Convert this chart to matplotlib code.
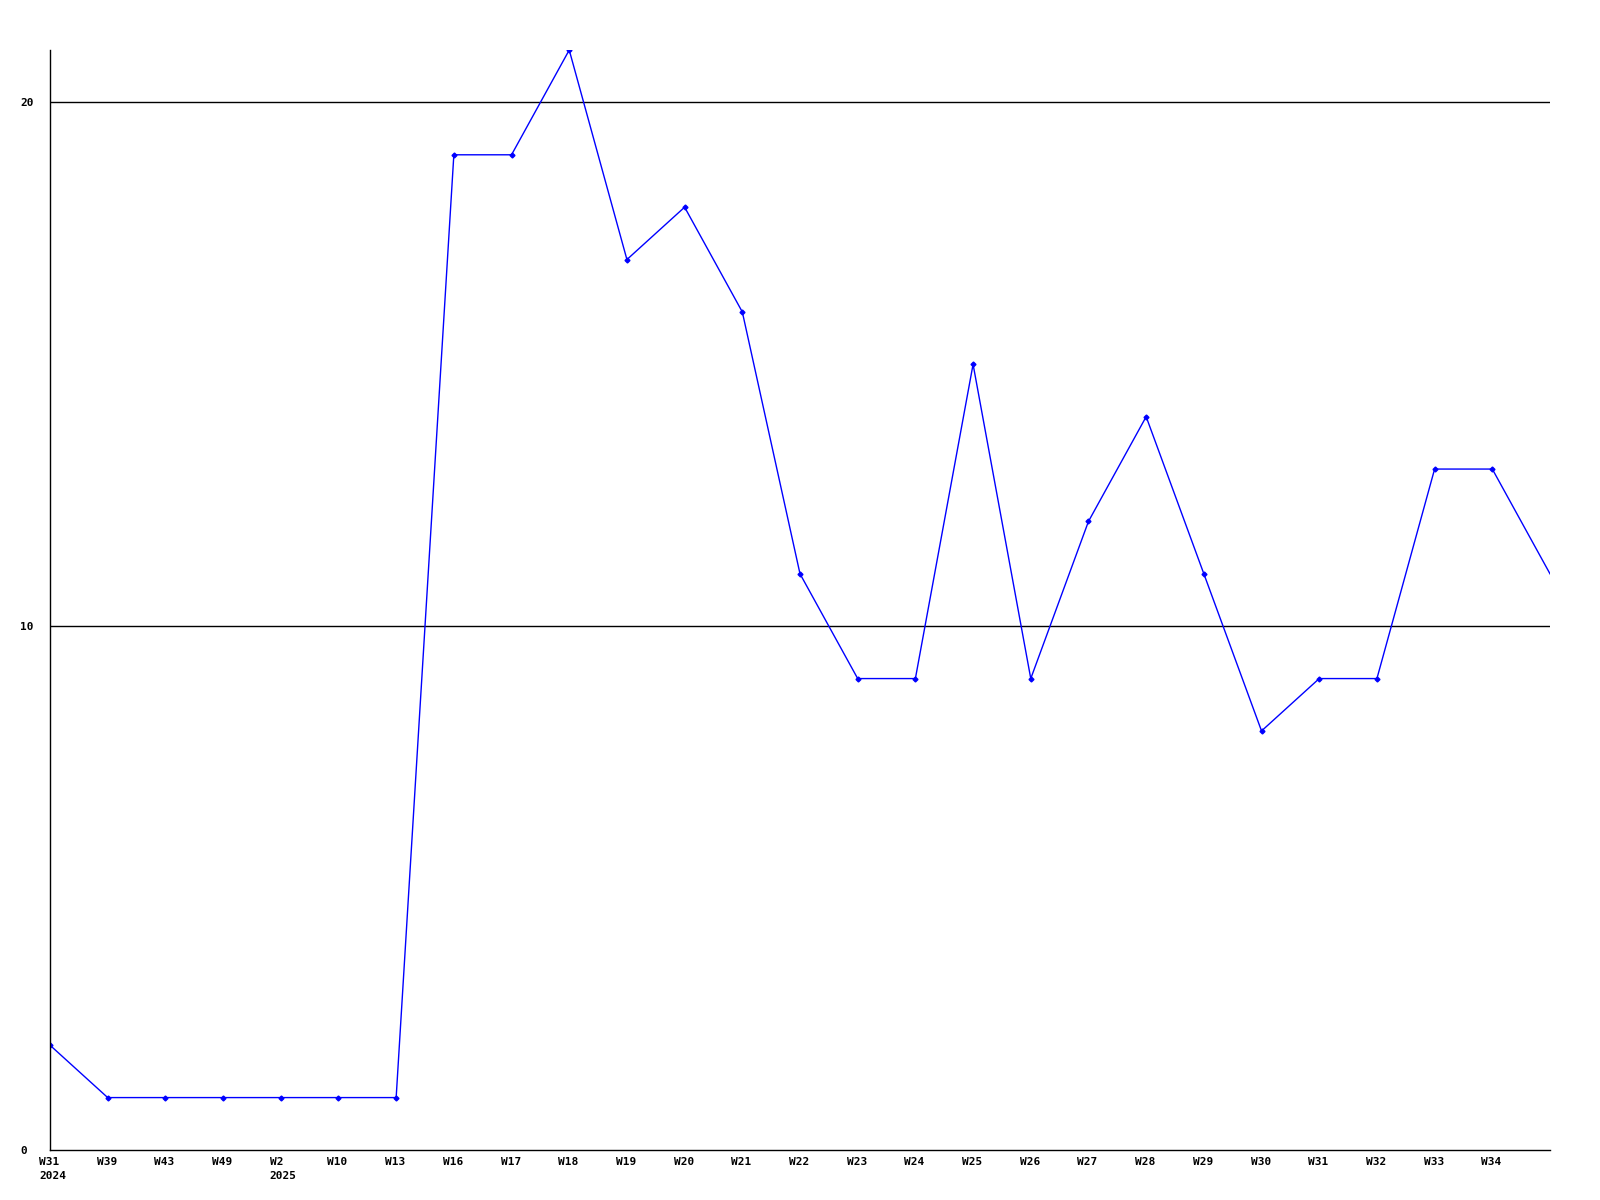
import matplotlib
matplotlib.use('Agg')
import matplotlib.pyplot as plt
import matplotlib.transforms as mtransforms

# --- Data ---
weeks = ['W31\n2024', 'W39', 'W43', 'W49', 'W2\n2025', 'W10', 'W13', 'W16', 'W17', 'W18',
         'W19', 'W20', 'W21', 'W22', 'W23', 'W24', 'W25', 'W26', 'W27', 'W28',
         'W29', 'W30', 'W31', 'W32', 'W33', 'W34', '']
values = [2, 1, 1, 1, 1, 1, 1, 19, 19, 21,
          17, 18, 16, 11, 9, 9, 15, 9, 12, 14,
          11, 8, 9, 9, 13, 13, 11]
y_ticks = [0, 10, 20]

fig = plt.figure(figsize=(16, 12), dpi=100)
ax = fig.add_axes([0.03125, 0.0417, 0.9375, 0.9166])

x = list(range(len(values)))
# the last point (current, unfinished week) has no marker
ax.plot(x, values, '-', color='blue', linewidth=1, marker='D', markersize=2.5,
        markevery=list(range(len(values) - 1)))

for yv in y_ticks[1:]:
    ax.axhline(yv, color='black', linewidth=1, zorder=0)

ax.set_xlim(0, len(values) - 1)
ax.set_ylim(0, 21)

font = dict(family='DejaVu Sans Mono', weight='bold', size=8)

# y labels are left-aligned at a fixed column
ax.set_yticks(y_ticks)
ax.set_yticklabels([str(v) for v in y_ticks], ha='left', **font)
ax.tick_params(axis='y', length=0, pad=21.6)

ax.set_xticks(x)
ax.set_xticklabels(weeks, ha='left', va='top', linespacing=1.5, **font)
ax.tick_params(axis='x', length=0, pad=5)
offset = mtransforms.ScaledTranslation(-11 / 100, 0, fig.dpi_scale_trans)
for lbl in ax.get_xticklabels():
    lbl.set_transform(lbl.get_transform() + offset)

for side in ('top', 'right'):
    ax.spines[side].set_visible(False)
for side in ('left', 'bottom'):
    ax.spines[side].set_linewidth(1)
    ax.spines[side].set_color('black')

fig.savefig('out.png', dpi=100)
